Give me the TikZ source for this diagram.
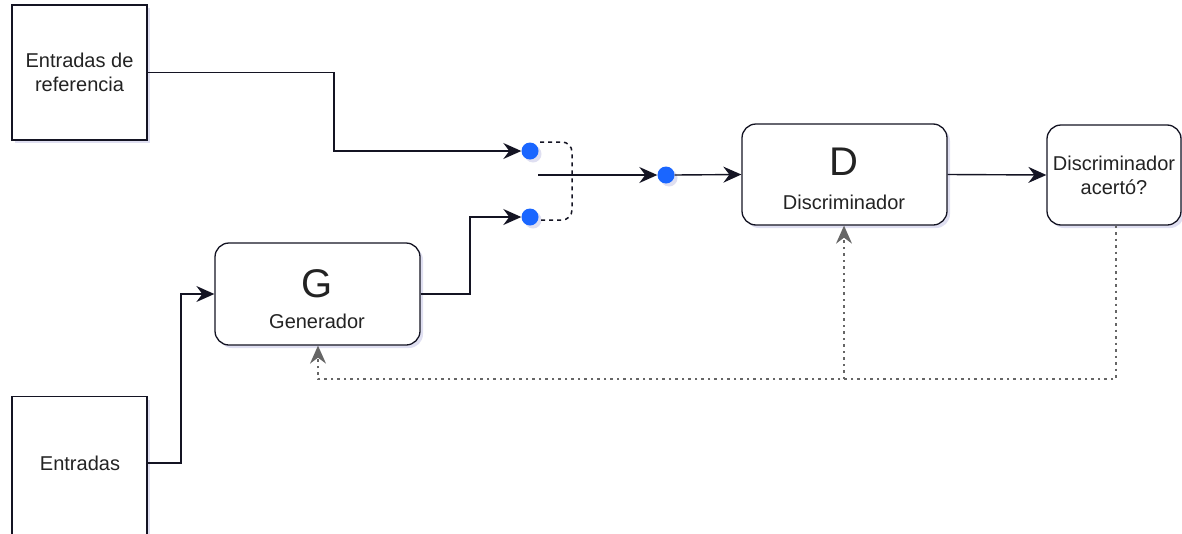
\documentclass[tikz,border=0pt]{standalone}
\usepackage{fontspec}
\setmainfont{Liberation Sans}
\usetikzlibrary{arrows.meta,shadows}
\definecolor{dotblue}{RGB}{26,102,255}
\definecolor{ln}{RGB}{20,20,35}
\definecolor{txt}{RGB}{35,35,35}
\begin{document}
\begin{tikzpicture}[x=1pt,y=-1pt,
  sh/.style={drop shadow={shadow xshift=3pt,shadow yshift=-3pt,opacity=0.18,fill=blue!40!gray}},
  sqbox/.style={draw=ln,line width=1.3pt,fill=white,sh,minimum width=135pt,minimum height=135pt,align=center,font=\fontsize{20}{24}\selectfont,text=txt,inner sep=0pt},
  rbox/.style={draw=ln,line width=1.3pt,fill=white,sh,rounded corners=14pt,inner sep=0pt},
  conn/.style={draw=ln,line width=1.4pt,arrows={-Stealth[length=18pt,width=16pt,inset=6pt]}},
  fb/.style={draw=gray!80!black,line width=1.2pt,dash pattern=on 2.5pt off 4pt,arrows={-Stealth[length=18pt,width=16pt,inset=6pt]}},
  bdot/.style={circle,fill=dotblue,minimum size=17pt,inner sep=0pt,sh},
  lbl/.style={font=\fontsize{20}{24}\selectfont,text=txt,align=center,inner sep=0pt},
  big/.style={font=\fontsize{40}{44}\selectfont,text=txt,inner sep=0pt}
]
\useasboundingbox (0,0) rectangle (1182,533);
% boxes
\node[sqbox] (ref) at (79.5,72.5) {Entradas de\\referencia};
\node[sqbox,minimum height=150pt,anchor=north] (ent) at (79.5,396) {};
\node[lbl] (entl) at (80,463) {Entradas};
\node[rbox,minimum width=205pt,minimum height=102pt] (G) at (317.5,294) {};
\node[big] (Gl) at (317,284) {G};
\node[lbl] (Gs) at (317,321) {Generador};
\node[rbox,minimum width=205pt,minimum height=101pt] (D) at (844.5,174.5) {};
\node[big] (Dl) at (844,162) {D};
\node[lbl] (Ds) at (844,202) {Discriminador};
\node[rbox,minimum width=134pt,minimum height=100pt,align=center,font=\fontsize{20}{24}\selectfont,text=txt] (A) at (1114,175) {Discriminador\\acertó?};
% dots
\node[bdot] (d1) at (530,151) {};
\node[bdot] (d2) at (530,217) {};
\node[bdot] (d3) at (666,175) {};
\coordinate (m) at (538,175);
\coordinate (c1) at (540,142);
\coordinate (c2) at (572,142);
\coordinate (c3) at (572,220);
\coordinate (c4) at (540,220);
% connectors
\draw[conn] (ref.east) -- (334,72.5) -- (334,151) -- (d1.west);
\draw[conn] (ent.east |- entl) -- (181,463) -- (181,294) -- (G.west);
\draw[conn] (G.east) -- (470,294) -- (470,217) -- (d2.west);
\draw[draw=ln,line width=1.5pt,dash pattern=on 4pt off 4pt,rounded corners=10pt] (c1) -- (c2) -- (c3) -- (c4);
\draw[conn] (m) -- (d3.west);
\draw[conn] (d3.east) -- (D.west);
\draw[conn] (D.east) -- (A.west);
% feedback
\coordinate (fb1) at (1116,379);
\coordinate (fb2) at (844,379);
\coordinate (fb3) at (318,379);
\draw[fb] (A.south -| fb1) -- (fb1) -- (fb3) -- (G.south -| fb3);
\draw[fb] (fb2) -- (D.south -| fb2);
\end{tikzpicture}
\end{document}
